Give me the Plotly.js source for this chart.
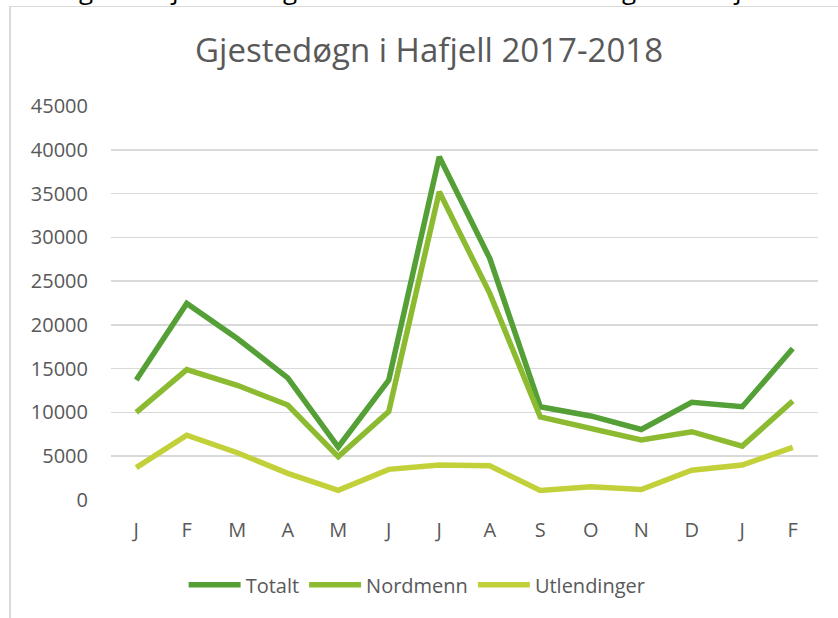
<!DOCTYPE html>
<html>
<head>
<meta charset="utf-8">
<script src="https://cdn.plot.ly/plotly-3.0.1.min.js"></script>
<style>
  html, body { margin: 0; padding: 0; background: #ffffff; overflow: hidden; }
  #chart { position: absolute; left: 0; top: 0; width: 838px; height: 618px; }
  #frame { position: absolute; left: 9px; top: 6px; width: 900px; height: 700px;
           border-left: 2px solid #d9d9d9; border-top: 1px solid #d9d9d9; pointer-events: none; }
  .cut { position: absolute; top: -24px; font-family: "Open Sans", sans-serif; font-size: 26px;
         line-height: 1; color: #000; }
</style>
</head>
<body>
<div id="chart"></div>
<div id="frame"></div>
<span class="cut" style="left:79px">g</span>
<span class="cut" style="left:172px">j</span>
<span class="cut" style="left:283px">g</span>
<span class="cut" style="left:622px">g</span>
<span class="cut" style="left:735px">j</span>
<script>
const months = ["J","F","M","A","M","J","J","A","S","O","N","D","J","F"];
const totalt = [13700, 22450, 18450, 13950, 6050, 13700, 39200, 27600, 10650, 9600, 8050, 11150, 10650, 17300];
const nordmenn = [10000, 14900, 13100, 10850, 4950, 10100, 35200, 23600, 9500, 8100, 6850, 7800, 6150, 11300];
const utlendinger = [3700, 7400, 5400, 3050, 1100, 3500, 4000, 3900, 1100, 1500, 1200, 3400, 4000, 6000];

const idx = months.map((m, i) => i);
const mk = (name, y, color) => ({
  type: "scatter", mode: "lines", name: name, x: idx, y: y,
  line: { color: color, width: 5.5, shape: "linear" },
  hoverinfo: "skip"
});

const data = [
  mk("Totalt", totalt, "#55a036"),
  mk("Nordmenn", nordmenn, "#8cbb31"),
  mk("Utlendinger", utlendinger, "#c2d13a")
];

const layout = {
  width: 838, height: 618,
  margin: { l: 111, r: 20, t: 106, b: 118 },
  paper_bgcolor: "#ffffff", plot_bgcolor: "#ffffff",
  font: { family: "Open Sans, sans-serif", color: "#595959", size: 20 },
  title: { text: "Gjestedøgn i Hafjell 2017-2018", font: { family: "Open Sans, sans-serif", size: 33, color: "#595959" },
           x: 0.512, xanchor: "center", y: 0.918, yanchor: "middle" },
  xaxis: {
    range: [-0.5, 13.5], tickmode: "array", tickvals: idx, ticktext: months,
    showgrid: false, zeroline: false, showline: false, ticks: "",
    ticklabelstandoff: 16, fixedrange: true
  },
  yaxis: {
    range: [0, 45000], dtick: 5000, tick0: 0, tickformat: "d",
    showgrid: true, gridcolor: "#d9d9d9", gridwidth: 1.5,
    zeroline: false, showline: false, ticks: "",
    ticklabelstandoff: 22, fixedrange: true
  },
  showlegend: true,
  legend: { orientation: "h", x: 0.433, xanchor: "center", y: -0.215, yanchor: "middle",
            font: { size: 20, color: "#595959" }, itemwidth: 52, traceorder: "normal" }
};

Plotly.newPlot("chart", data, layout, { displayModeBar: false, staticPlot: true });
</script>
</body>
</html>
